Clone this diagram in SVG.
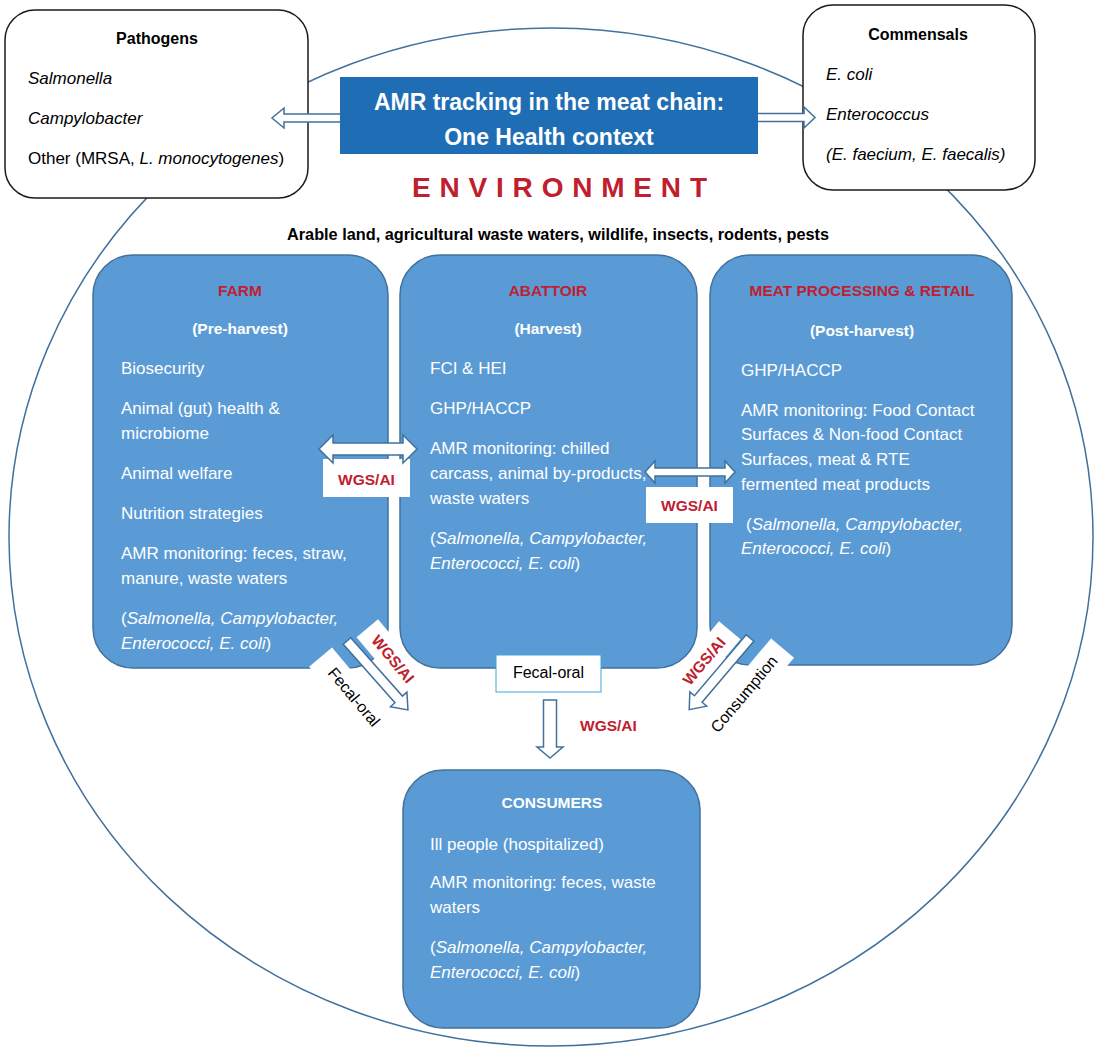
<svg xmlns="http://www.w3.org/2000/svg" width="1096" height="1047" viewBox="0 0 1096 1047">
<style>
.t{font-family:"Liberation Sans",Arial,sans-serif}
.box{fill:#5B9BD5;stroke:#41719C;stroke-width:1.5}
.wbox{fill:#fff;stroke:#1a1a1a;stroke-width:1.5}
.arr{fill:#fff;stroke:#41719C;stroke-width:1.5}
.lb{fill:#fff}
.body{font-size:17px;fill:#fff}
.blk{font-size:17px;fill:#000}
.hd{font-size:15.5px;font-weight:bold;fill:#C0202E;text-anchor:middle}
.sub{font-size:15.5px;font-weight:bold;fill:#fff;text-anchor:middle}
.wgs{font-size:15.5px;font-weight:bold;fill:#C0202E}
.i{font-style:italic}
</style>
<rect width="1096" height="1047" fill="#fff"/>
<ellipse cx="551" cy="537" rx="542" ry="509" fill="none" stroke="#41719C" stroke-width="1.5"/>

<g id="pathogens">
<rect class="wbox" x="5" y="10" width="303" height="188" rx="30"/>
<text class="t" x="157" y="44" font-size="16" font-weight="bold" text-anchor="middle">Pathogens</text>
<text class="t blk i" x="28" y="84">Salmonella</text>
<text class="t blk i" x="28" y="124">Campylobacter</text>
<text class="t blk" x="28" y="164">Other (MRSA, <tspan class="i">L. monocytogenes</tspan>)</text>
</g>

<g id="commensals">
<rect class="wbox" x="803" y="5" width="232" height="185" rx="30"/>
<text class="t" x="918" y="40" font-size="16" font-weight="bold" text-anchor="middle">Commensals</text>
<text class="t blk i" x="826" y="80">E. coli</text>
<text class="t blk i" x="826" y="120">Enterococcus</text>
<text class="t blk i" x="826" y="160">(E. faecium, E. faecalis)</text>
</g>

<g id="connectors-top">
<path class="arr" d="M348,114 H284 V108 L272,118 L284,128 V122 H348 Z"/>
<path class="arr" d="M750,113.5 H804 V107 L815,117.5 L804,128 V121.5 H750 Z"/>
</g>

<g id="title">
<rect x="340" y="77" width="418" height="77" fill="#1F6EB5"/>
<text class="t" x="549" y="110" font-size="23" font-weight="bold" fill="#fff" text-anchor="middle">AMR tracking in the meat chain:</text>
<text class="t" x="549" y="145" font-size="23" font-weight="bold" fill="#fff" text-anchor="middle">One Health context</text>
</g>

<g id="environment">
<text class="t" x="412" y="197" font-size="28" font-weight="bold" fill="#C0202E" textLength="295" lengthAdjust="spacing">ENVIRONMENT</text>
<text class="t" x="558" y="240" font-size="16.3" font-weight="bold" fill="#000" text-anchor="middle">Arable land, agricultural waste waters, wildlife, insects, rodents, pests</text>
</g>

<g id="farm">
<rect class="box" x="93" y="255" width="295" height="413" rx="40"/>
<text class="t hd" x="240" y="296">FARM</text>
<text class="t sub" x="240" y="334">(Pre-harvest)</text>
<text class="t body" x="121" y="374">Biosecurity</text>
<text class="t body" x="121" y="414">Animal (gut) health &amp;</text>
<text class="t body" x="121" y="439">microbiome</text>
<text class="t body" x="121" y="479">Animal welfare</text>
<text class="t body" x="121" y="519">Nutrition strategies</text>
<text class="t body" x="121" y="559">AMR monitoring: feces, straw,</text>
<text class="t body" x="121" y="584">manure, waste waters</text>
<text class="t body" x="121" y="624">(<tspan class="i">Salmonella, Campylobacter,</tspan></text>
<text class="t body" x="121" y="649"><tspan class="i">Enterococci, E. coli</tspan>)</text>
</g>

<g id="abattoir">
<rect class="box" x="400" y="255" width="297" height="413" rx="40"/>
<text class="t hd" x="548" y="296">ABATTOIR</text>
<text class="t sub" x="548" y="334">(Harvest)</text>
<text class="t body" x="430" y="374">FCI &amp; HEI</text>
<text class="t body" x="430" y="414">GHP/HACCP</text>
<text class="t body" x="430" y="454">AMR monitoring: chilled</text>
<text class="t body" x="430" y="479">carcass, animal by-products,</text>
<text class="t body" x="430" y="504">waste waters</text>
<text class="t body" x="430" y="544">(<tspan class="i">Salmonella, Campylobacter,</tspan></text>
<text class="t body" x="430" y="569"><tspan class="i">Enterococci, E. coli</tspan>)</text>
</g>

<g id="meat-processing">
<rect class="box" x="710" y="255" width="302" height="410" rx="40"/>
<text class="t hd" x="862" y="296">MEAT PROCESSING &amp; RETAIL</text>
<text class="t sub" x="862" y="336">(Post-harvest)</text>
<text class="t body" x="741" y="376">GHP/HACCP</text>
<text class="t body" x="741" y="416">AMR monitoring: Food Contact</text>
<text class="t body" x="741" y="440">Surfaces &amp; Non-food Contact</text>
<text class="t body" x="741" y="465">Surfaces, meat &amp; RTE</text>
<text class="t body" x="741" y="490">fermented meat products</text>
<text class="t body" x="746" y="530">(<tspan class="i">Salmonella, Campylobacter,</tspan></text>
<text class="t body" x="741" y="554"><tspan class="i">Enterococci, E. coli</tspan>)</text>
</g>

<g id="consumers">
<rect class="box" x="403" y="770" width="297" height="258" rx="40"/>
<text class="t sub" x="552" y="808">CONSUMERS</text>
<text class="t body" x="430" y="850">Ill people (hospitalized)</text>
<text class="t body" x="430" y="888">AMR monitoring: feces, waste</text>
<text class="t body" x="430" y="913">waters</text>
<text class="t body" x="430" y="953">(<tspan class="i">Salmonella, Campylobacter,</tspan></text>
<text class="t body" x="430" y="978"><tspan class="i">Enterococci, E. coli</tspan>)</text>
</g>

<g id="connectors">
<rect class="lb" x="323" y="459" width="87" height="38"/>
<text class="t wgs" x="366.5" y="485" text-anchor="middle">WGS/AI</text>
<path class="arr" d="M319,449 L333,435 V443 H403 V435 L417,449 L403,463 V455 H333 V463 Z"/>

<rect class="lb" x="646" y="487" width="87" height="36"/>
<text class="t wgs" x="689.5" y="511" text-anchor="middle">WGS/AI</text>
<path class="arr" d="M645,472 L655,461 V468 H725 V461 L735,472 L725,483 V476 H655 V483 Z"/>

<g transform="translate(393,659) rotate(50)">
<rect class="lb" x="-40" y="-14" width="80" height="28"/>
<text class="t wgs" x="0" y="5.5" text-anchor="middle">WGS/AI</text>
</g>
<g transform="translate(354,697) rotate(50)">
<rect class="lb" x="-52" y="-15" width="104" height="30"/>
<text class="t" x="0" y="5.5" font-size="16" fill="#000" text-anchor="middle">Fecal-oral</text>
</g>
<path class="arr" transform="translate(347,641) rotate(48.5)" d="M0,-5 H78 V-11 L92,0 L78,11 V5 H0 Z"/>

<g transform="translate(704,661) rotate(-50)">
<rect class="lb" x="-40" y="-14" width="80" height="28"/>
<text class="t wgs" x="0" y="5.5" text-anchor="middle">WGS/AI</text>
</g>
<g transform="translate(744,694) rotate(-50)">
<rect class="lb" x="-60" y="-15" width="120" height="30"/>
<text class="t" x="0" y="5.5" font-size="16" fill="#000" text-anchor="middle">Consumption</text>
</g>
<path class="arr" transform="translate(750,638) rotate(130.3)" d="M0,-5 H80 V-11 L94,0 L80,11 V5 H0 Z"/>

<rect x="496" y="655" width="105" height="37" fill="#fff" stroke="#41A5D9" stroke-width="1"/>
<text class="t" x="548.5" y="678" font-size="16" fill="#000" text-anchor="middle">Fecal-oral</text>
<path class="arr" d="M543.5,700 H556.5 V747 H563 L550,758 L537,747 H543.5 Z"/>
<text class="t wgs" x="580" y="731">WGS/AI</text>
</g>
</svg>
